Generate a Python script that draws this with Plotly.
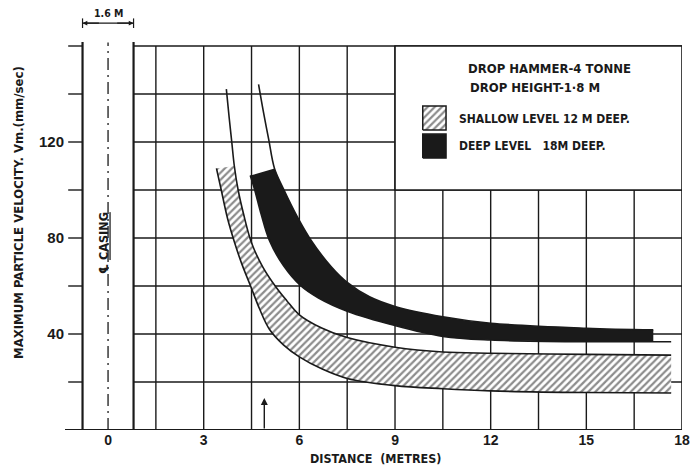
import plotly.graph_objects as go

# ---- data -------------------------------------------------------------
x_ticks = [0, 3, 6, 9, 12, 15, 18]
y_ticks = [40, 80, 120]

# Shallow level, 12 m deep: upper and lower envelope of peak particle velocity
shallow_upper_x = [3.71, 3.80, 3.88, 3.96, 4.08, 4.25, 4.50, 4.85, 5.27, 5.60, 6.0, 6.7, 7.5, 9.0, 10.5, 12.0, 15.0, 17.66]
shallow_upper_y = [142, 130, 120, 110, 100, 90, 78, 68, 59.5, 54, 48, 42.5, 38.5, 34.5, 32.5, 32.0, 31.5, 31.2]
shallow_lower_x = [3.40, 3.55, 3.75, 3.97, 4.20, 4.47, 4.75, 5.06, 5.5, 6.0, 6.7, 7.5, 9.0, 10.5, 12.0, 15.0, 17.66]
shallow_lower_y = [109, 100, 88, 78, 69, 60, 50.5, 42, 35.5, 30.5, 25.5, 21.5, 18.5, 17.2, 16.3, 15.6, 15.4]

# Deep level, 18 m deep
deep_upper_x = [4.72, 4.88, 5.04, 5.22, 5.50, 5.95, 6.37, 7.0, 7.5, 8.2, 9.0, 10.5, 12.0, 15.0, 17.1]
deep_upper_y = [144, 132, 121, 109, 100.5, 88.5, 79, 68, 61.5, 55.5, 51.5, 47.2, 44.5, 42.4, 41.7]
deep_lower_x = [4.46, 4.60, 4.80, 5.06, 5.50, 6.05, 6.6, 7.5, 9.0, 10.5, 12.0, 15.0, 17.1, 17.66]
deep_lower_y = [106, 100, 90, 79, 68.5, 60, 55, 49.5, 43.5, 39.0, 37.5, 36.8, 36.8, 36.8]

# where the shaded bands begin / end along each envelope
shallow_fill_start = 3      # first upper point of the hatched band
deep_fill_start = 3         # first upper point of the solid band
deep_fill_end = 13          # lower-curve points used by the solid band (up to x = 17.1)

casing_half_width = 0.8
grid_step_x = 1.5
grid_step_y = 20
x_min, x_max, y_top = -1.35, 18, 160
legend_box = (9, 18, 100, 160)

INK = "#1a1a1a"
FONT = "Liberation Sans Narrow, DejaVu Sans Condensed, Arial Narrow, sans-serif"
NUM_FONT = "Liberation Sans, Arial, sans-serif"

fig = go.Figure()

# ---- hatched band (shallow level) -------------------------------------
fig.add_trace(go.Scatter(x=shallow_lower_x, y=shallow_lower_y, mode="lines",
                         line=dict(width=0, shape="spline", color=INK), hoverinfo="skip"))
fig.add_trace(go.Scatter(x=shallow_upper_x[shallow_fill_start:], y=shallow_upper_y[shallow_fill_start:],
                         mode="lines", line=dict(width=0, shape="spline", color=INK),
                         fill="tonexty", fillcolor="white",
                         fillpattern=dict(shape="/", size=5, solidity=0.45, fgcolor=INK, bgcolor="white"),
                         hoverinfo="skip"))

# ---- solid band (deep level) ------------------------------------------
fig.add_trace(go.Scatter(x=deep_lower_x[:deep_fill_end], y=deep_lower_y[:deep_fill_end], mode="lines",
                         line=dict(width=0, shape="spline", color=INK), hoverinfo="skip"))
fig.add_trace(go.Scatter(x=deep_upper_x[deep_fill_start:], y=deep_upper_y[deep_fill_start:],
                         mode="lines", line=dict(width=0, shape="spline", color=INK),
                         fill="tonexty", fillcolor=INK, hoverinfo="skip"))

# ---- envelope outlines --------------------------------------------------
for xs, ys in [(shallow_upper_x, shallow_upper_y), (shallow_lower_x, shallow_lower_y),
               (deep_upper_x, deep_upper_y), (deep_lower_x, deep_lower_y)]:
    fig.add_trace(go.Scatter(x=xs, y=ys, mode="lines",
                             line=dict(width=1.6, shape="spline", color=INK), hoverinfo="skip"))

# ---- legend swatches ------------------------------------------------------
sw_x0, sw_x1 = 9.87, 10.6
fig.add_trace(go.Scatter(x=[sw_x0, sw_x1, sw_x1, sw_x0, sw_x0], y=[125, 125, 135, 135, 125],
                         mode="lines", line=dict(width=1.5, color=INK), fill="toself", fillcolor="white",
                         fillpattern=dict(shape="/", size=5, solidity=0.45, fgcolor=INK, bgcolor="white"),
                         hoverinfo="skip"))
fig.add_trace(go.Scatter(x=[sw_x0, sw_x1, sw_x1, sw_x0, sw_x0], y=[113.3, 113.3, 123.3, 123.3, 113.3],
                         mode="lines", line=dict(width=1.5, color=INK), fill="toself", fillcolor=INK,
                         hoverinfo="skip"))

# ---- grid, casing and frame ----------------------------------------------
shapes = []
grid = dict(color=INK, width=1.4)
k = 1
while k * grid_step_x < x_max:
    gx = k * grid_step_x
    shapes.append(dict(type="line", xref="x", yref="y", x0=gx, x1=gx, y0=0, y1=y_top,
                       line=grid, layer="below"))
    k += 1
for gy in range(grid_step_y, y_top + 1, grid_step_y):
    shapes.append(dict(type="line", xref="x", yref="y", x0=casing_half_width, x1=x_max, y0=gy, y1=gy,
                       line=grid, layer="below"))
    shapes.append(dict(type="line", xref="x", yref="y", x0=-1.25, x1=-casing_half_width, y0=gy, y1=gy,
                       line=grid, layer="below"))
shapes.append(dict(type="line", xref="x", yref="y", x0=x_max, x1=x_max, y0=0, y1=y_top,
                   line=dict(color=INK, width=1.6), layer="below"))
# legend panel covers the grid
bx0, bx1, by0, by1 = legend_box
shapes.append(dict(type="rect", xref="x", yref="y", x0=bx0, x1=bx1, y0=by0, y1=by1,
                   fillcolor="white", line=dict(color=INK, width=1.6), layer="below"))
# casing walls
for cx in (-casing_half_width, casing_half_width):
    shapes.append(dict(type="line", xref="x", yref="y", x0=cx, x1=cx, y0=0, y1=161.7,
                       line=dict(color=INK, width=2.2)))
# casing centre line
shapes.append(dict(type="line", xref="x", yref="y", x0=0, x1=0, y0=0, y1=161.5,
                   line=dict(color=INK, width=1.3, dash="12px,5px,2px,5px")))
# distance axis
shapes.append(dict(type="line", xref="x", yref="y", x0=x_min, x1=x_max, y0=0, y1=0,
                   line=dict(color=INK, width=2)))
# dimension line across casing
shapes.append(dict(type="line", xref="x", yref="y", x0=-casing_half_width, x1=casing_half_width,
                   y0=169.5, y1=169.5, line=dict(color=INK, width=1.2)))
for cx in (-casing_half_width, casing_half_width):
    shapes.append(dict(type="line", xref="x", yref="y", x0=cx, x1=cx, y0=167.5, y1=171.5,
                       line=dict(color=INK, width=1.2)))

ann = []
lab_big = dict(family=FONT, size=13, color=INK, weight="bold")
lab = dict(family=FONT, size=12, color=INK, weight="bold")
ann.append(dict(x=0, y=170.5, xref="x", yref="y", text="1.6 M", showarrow=False,
                font=dict(family=FONT, size=10.5, color=INK, weight="bold"), yanchor="bottom"))
for cx in (-casing_half_width, casing_half_width):
    ann.append(dict(x=cx, y=169.5, ax=cx * 0.3, ay=169.5, xref="x", yref="y", axref="x", ayref="y",
                    text="", showarrow=True, arrowhead=2, arrowsize=0.8, arrowwidth=1.2, arrowcolor=INK))
ann.append(dict(x=-0.12, y=78, xref="x", yref="y", text="\u2104 <u>CASING</u>", textangle=-90,
                showarrow=False, xanchor="center", yanchor="middle",
                font=dict(family=FONT, size=12.5, color=INK, weight="bold")))
# source position marker
ann.append(dict(x=4.9, y=13.3, ax=4.9, ay=0, xref="x", yref="y", axref="x", ayref="y", text="",
                showarrow=True, arrowhead=2, arrowsize=1, arrowwidth=1.4, arrowcolor=INK))
# panel text
ann.append(dict(x=13.86, y=150.8, xref="x", yref="y", text="DROP HAMMER-4 TONNE", showarrow=False,
                font=lab_big, xanchor="center", yanchor="middle"))
ann.append(dict(x=11.28, y=142.9, xref="x", yref="y", text="DROP HEIGHT-1\u00b78 M", showarrow=False,
                font=lab_big, xanchor="left", yanchor="middle"))
ann.append(dict(x=10.94, y=129.5, xref="x", yref="y", text="SHALLOW LEVEL 12 M DEEP.", showarrow=False,
                font=lab, xanchor="left", yanchor="middle"))
ann.append(dict(x=10.94, y=118.3, xref="x", yref="y", text="DEEP LEVEL   18M DEEP.", showarrow=False,
                font=lab, xanchor="left", yanchor="middle"))

# axis titles, placed in pixels and converted to paper fractions
L, R, T, B = 65, 11, 10, 37
W, H = 693, 467
def px_to_paper(px, py):
    return (px - L) / (W - L - R), 1 - (py - T) / (H - T - B)

tx, ty = px_to_paper(18, 213)
ann.append(dict(x=tx, y=ty, xref="paper", yref="paper", xanchor="center", yanchor="middle",
                text="MAXIMUM PARTICLE VELOCITY. Vm.(mm/sec)", textangle=-90, showarrow=False,
                font=dict(family=FONT, size=13, color=INK, weight="bold")))
tx, ty = px_to_paper(375, 458)
ann.append(dict(x=tx, y=ty, xref="paper", yref="paper", xanchor="center", yanchor="middle",
                text="DISTANCE  (METRES)", showarrow=False,
                font=dict(family=FONT, size=12.5, color=INK, weight="bold")))

fig.update_layout(
    width=W, height=H, margin=dict(l=L, r=R, t=T, b=B, autoexpand=False),
    plot_bgcolor="white", paper_bgcolor="white", showlegend=False,
    shapes=shapes, annotations=ann,
    xaxis=dict(range=[x_min, x_max], showgrid=False, zeroline=False, showline=False,
               tickvals=x_ticks, ticks="", fixedrange=True, automargin=False,
               tickfont=dict(family=NUM_FONT, size=14, color=INK, weight="bold")),
    yaxis=dict(range=[0, 175], showgrid=False, zeroline=False, showline=False,
               tickvals=y_ticks, ticks="", fixedrange=True, automargin=False,
               tickfont=dict(family=NUM_FONT, size=15, color=INK, weight="bold")),
)

fig.write_html("out.html")
